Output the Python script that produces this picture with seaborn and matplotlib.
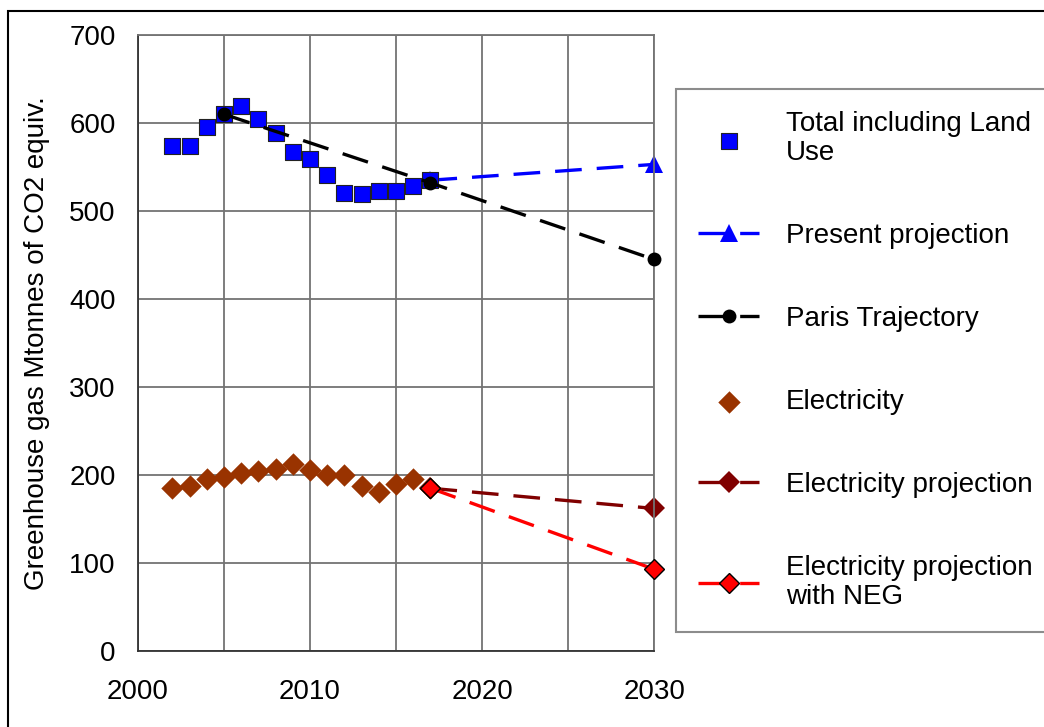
import matplotlib
matplotlib.use("Agg")
import matplotlib.pyplot as plt
import matplotlib.patches as mpatches
from matplotlib.ticker import MultipleLocator
import seaborn as sns

# values
hist_years = list(range(2002, 2018))
total_land_use = [574, 574, 596, 610, 619, 605, 589, 567, 559, 541, 520, 519, 523, 523, 528, 535]
electricity = [185, 188, 195, 198, 202, 205, 207, 213, 206, 200, 200, 188, 181, 190, 196, 185]

present_years = [2017, 2030]
present_proj = [535, 553]

paris_years = [2005, 2017, 2030]
paris_traj = [610, 532, 445]

elec_proj_years = [2017, 2030]
elec_proj = [185, 162]
elec_neg = [185, 93]

sns.set_style("white")
plt.rcParams["font.family"] = ["Liberation Sans", "DejaVu Sans"]
plt.rcParams.update({"text.color": "black", "axes.labelcolor": "black",
                     "xtick.color": "black", "ytick.color": "black"})

fig = plt.figure(figsize=(10.44, 7.27), dpi=100)
ax = fig.add_axes([0.1322, 0.1045, 0.4943, 0.8473])

dash = (0, (8, 4.5))
lw = 2.4

sns.scatterplot(x=hist_years, y=total_land_use, marker="s", s=125, color="#0000FF",
                edgecolor="#222222", linewidth=0.8, label="Total including Land\nUse",
                ax=ax, zorder=3, clip_on=False)
sns.lineplot(x=present_years, y=present_proj, color="#0000FF", linestyle=dash, linewidth=lw,
             marker="^", markersize=13, markeredgewidth=0, label="Present projection",
             ax=ax, zorder=2, clip_on=False)
sns.lineplot(x=paris_years, y=paris_traj, color="black", linestyle=dash, linewidth=lw,
             marker="o", markersize=10, markeredgewidth=0, label="Paris Trajectory",
             ax=ax, zorder=4, clip_on=False)
sns.scatterplot(x=hist_years, y=electricity, marker="D", s=130, color="#993300",
                linewidth=0, label="Electricity", ax=ax, zorder=3, clip_on=False)
sns.lineplot(x=elec_proj_years, y=elec_proj, color="#800000", linestyle=dash, linewidth=lw,
             marker="D", markersize=11.5, markeredgewidth=0, label="Electricity projection",
             ax=ax, zorder=2, clip_on=False)
sns.lineplot(x=elec_proj_years, y=elec_neg, color="#FF0000", linestyle=dash, linewidth=lw,
             marker="D", markersize=10.5, markeredgecolor="black", markeredgewidth=1,
             label="Electricity projection\nwith NEG", ax=ax, zorder=4, clip_on=False)

ax.set_xlim(2000, 2030)
ax.set_ylim(0, 700)
ax.xaxis.set_major_locator(MultipleLocator(10))
ax.xaxis.set_minor_locator(MultipleLocator(5))
ax.yaxis.set_major_locator(MultipleLocator(100))
ax.grid(True, which="both", axis="x", color="#737373", linewidth=1.3)
ax.grid(True, which="major", axis="y", color="#737373", linewidth=1.3)
ax.set_axisbelow(True)

for side in ["top", "right"]:
    ax.spines[side].set_color("#737373")
    ax.spines[side].set_linewidth(1.3)
for side in ["left", "bottom"]:
    ax.spines[side].set_color("#333333")
    ax.spines[side].set_linewidth(1.3)

ax.tick_params(axis="both", which="major", direction="out", length=6, width=1.2,
               color="#333333", labelsize=20)
ax.tick_params(axis="x", which="major", pad=14)
ax.tick_params(axis="y", which="major", pad=10)
ax.tick_params(axis="x", which="minor", length=0)

ax.set_ylabel("Greenhouse gas Mtonnes of CO2 equiv.", fontsize=20, labelpad=14)
ax.set_xlabel("")

handles, labels = ax.get_legend_handles_labels()
ax.get_legend().remove()
leg = fig.legend(handles, labels, loc="upper left", bbox_to_anchor=(0.6475, 0.8776),
                 fontsize=20, frameon=True, fancybox=False, borderaxespad=0,
                 labelspacing=2.05, handlelength=2.2, handletextpad=0.95, borderpad=0.8)
for t in leg.get_texts():
    t.set_linespacing(1.15)
leg.get_frame().set_edgecolor("#6f6f6f")
leg.get_frame().set_linewidth(1.5)

# outer chart border (cut off on right and bottom in the reference)
fig.patches.append(mpatches.Rectangle((0.0077, -0.2), 1.5, 1.185, transform=fig.transFigure,
                                      fill=False, edgecolor="black", linewidth=1.5))

fig.savefig("out.png", dpi=100)
